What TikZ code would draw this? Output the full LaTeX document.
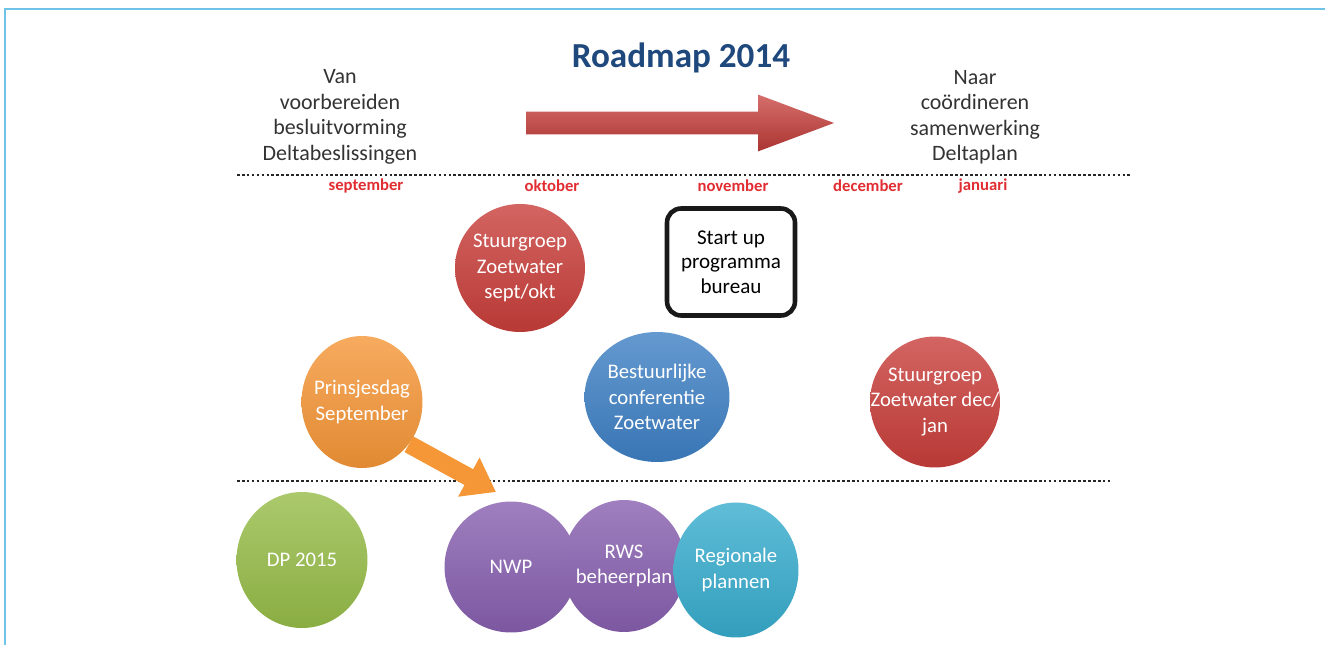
\documentclass[tikz,border=0pt]{standalone}
\usepackage{fontspec}
\setmainfont{Carlito}
\usepackage{xcolor}
\usepackage{tikz}
\usetikzlibrary{shapes.geometric, shapes.arrows, arrows.meta, positioning, calc}
\definecolor{RoadBlue}{RGB}{31,73,125}
\definecolor{FrameBlue}{RGB}{110,195,230}
\definecolor{MonthRed}{RGB}{225,45,50}
\definecolor{EvRed}{RGB}{200,62,58}
\definecolor{EvOrange}{RGB}{245,150,55}
\definecolor{EvBlue}{RGB}{62,128,196}
\definecolor{EvGreen}{RGB}{150,188,72}
\definecolor{EvPurple}{RGB}{135,95,175}
\definecolor{EvCyan}{RGB}{55,172,205}
\tikzset{
    evcircle/.style={ellipse, inner sep=-16pt, align=center, text=white,
        top color=#1!80!white, bottom color=#1!92!black, draw=none,
        font=\fontsize{11.8}{14.5}\selectfont},
    sidetext/.style={align=center, text=black!80, font=\fontsize{12.5}{14.5}\selectfont},
    monthlabel/.style={text=MonthRed, font=\fontsize{9.5}{11}\selectfont\bfseries},
    timeline/.style={line width=1.5pt, dash pattern=on 1.5pt off 1.3pt, black!85},
    startbox/.style={rectangle, rounded corners=8pt, line width=2.6pt, draw=black!90,
        minimum width=2.56cm, minimum height=2.14cm, align=center,
        font=\fontsize{12}{14}\selectfont},
    pusharrow/.style={line width=0.36cm, EvOrange, -{Triangle[length=0.62cm, width=0.85cm]}},
}

\begin{document}
\begin{tikzpicture}[x=0.02cm, y=-0.02cm]
    \useasboundingbox (0,0) rectangle (1325,645);
    % frame
    \draw[FrameBlue, line width=1.2pt] (5,645) -- (5,9) -- (1325,9);

    % heading
    \node[font=\fontsize{20}{24}\selectfont\bfseries, text=RoadBlue] (title) at (681,58) {Roadmap 2014};
    \node[sidetext] (van) at (340,117) {Van\\voorbereiden\\besluitvorming\\Deltabeslissingen};
    \node[sidetext] (naar) at (975,117) {Naar\\coördineren\\samenwerking\\Deltaplan};
    \node[single arrow, anchor=tip, minimum height=6.16cm, minimum width=1.12cm, inner xsep=0pt, inner ysep=0.22cm,
        single arrow head extend=0.34cm, single arrow tip angle=41,
        top color=EvRed!75!white, bottom color=EvRed!85!black] (bigArrow) at (835,123) {};

    % time axis
    \coordinate (lineA) at (237,175);
    \coordinate (lineB) at (1130,175);
    \draw[timeline] (lineA) -- (lineB);
    \node[monthlabel] (sep) at (366,186) {september};
    \node[monthlabel] (okt) at (552,186) {oktober};
    \node[monthlabel] (nov) at (733,186) {november};
    \node[monthlabel] (dec) at (868,186) {december};
    \node[monthlabel] (jan) at (983,186) {januari};

    % events
    \node[evcircle=EvRed, minimum width=2.6cm, minimum height=2.56cm] (sgSept) at (520,268) {Stuurgroep\\Zoetwater\\sept/okt};
    \node[startbox] (startUp) at (731,262) {Start up\\programma\\bureau};
    \node[evcircle=EvOrange, minimum width=2.42cm, minimum height=2.64cm] (prins) at (362,402) {Prinsjesdag\\September};
    \node[evcircle=EvBlue, minimum width=2.9cm, minimum height=2.6cm] (bestuur) at (657,397) {Bestuurlijke\\conferentie\\Zoetwater};
    \node[evcircle=EvRed, minimum width=2.6cm, minimum height=2.62cm] (sgDec) at (935,402) {Stuurgroep\\Zoetwater dec/\\jan};

    % second line
    \coordinate (lineC) at (237,481);
    \coordinate (lineD) at (1110,481);
    \draw[timeline] (lineC) -- (lineD);

    % plans
    \node[evcircle=EvGreen, minimum width=2.62cm, minimum height=2.72cm] (dp) at (302,560) {DP 2015};
    \node[evcircle=EvPurple, minimum width=2.66cm, minimum height=2.62cm] (nwp) at (511,567) {NWP};
    \node[evcircle=EvPurple, minimum width=2.46cm, minimum height=2.64cm] (rws) at (624,566) {RWS\\beheerplan};
    \node[evcircle=EvCyan, minimum width=2.5cm, minimum height=2.7cm] (regio) at (736,570) {Regionale\\plannen};

    \coordinate (prinsTip) at (496,492);
    \draw[pusharrow] (prins.-42) -- (prinsTip);
\end{tikzpicture}
\end{document}
